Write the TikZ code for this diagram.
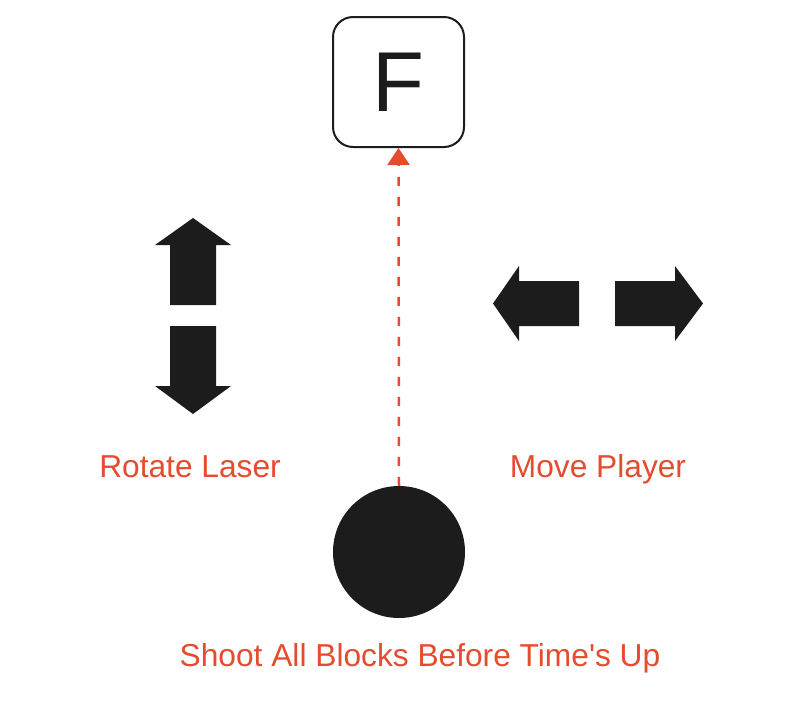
\documentclass[tikz,border=0pt]{standalone}
\usepackage{fontspec}
\setmainfont{Liberation Sans}[Ligatures=TeXOff]
\usetikzlibrary{arrows.meta}
\definecolor{ink}{HTML}{1C1C1C}
\definecolor{accent}{HTML}{E64B2E}
\tikzset{
  keybox/.style={draw=ink, line width=2pt, rounded corners=20pt, fill=white,
    minimum width=131pt, minimum height=130pt, inner sep=0pt,
    font=\fontsize{85}{85}\selectfont, text=ink},
  ballnode/.style={circle, fill=ink, minimum size=132pt, inner sep=0pt},
  caption/.style={anchor=base, text=accent, font=\fontsize{31.7}{32}\selectfont, inner sep=0pt},
  laser/.style={draw=accent, line width=2.5pt, dash pattern=on 9pt off 11pt,
    -{Triangle[length=17pt,width=22pt]}},
  blockarrow/.style={fill=ink}
}
\begin{document}
\begin{tikzpicture}[x=1pt,y=-1pt]
\useasboundingbox (0,0) rectangle (796,705);
% key F
\node[keybox] (fbox) at (398.5,82) {\raisebox{-4pt}{F}};
% ball
\node[ballnode] (ball) at (399,552) {};
% laser
\draw[laser] (ball.north) -- (fbox.south);
% up arrow
\fill[blockarrow] (193,218) -- (231,245) -- (216,245) -- (216,305) -- (170,305) -- (170,245) -- (155,245) -- cycle;
% down arrow
\fill[blockarrow] (193,414) -- (231,386) -- (216,386) -- (216,326) -- (170,326) -- (170,386) -- (155,386) -- cycle;
% left arrow
\fill[blockarrow] (493,303.5) -- (519,266) -- (519,281) -- (579,281) -- (579,326) -- (519,326) -- (519,341) -- cycle;
% right arrow
\fill[blockarrow] (703,303.5) -- (675,266) -- (675,281) -- (615,281) -- (615,326) -- (675,326) -- (675,341) -- cycle;
% labels
\node[caption] (rot) at (190,477) {Rotate Laser};
\node[caption] (mov) at (598,477) {Move Player};
\node[caption] (shoot) at (420,666) {Shoot All Blocks Before Time's Up};
\end{tikzpicture}
\end{document}
